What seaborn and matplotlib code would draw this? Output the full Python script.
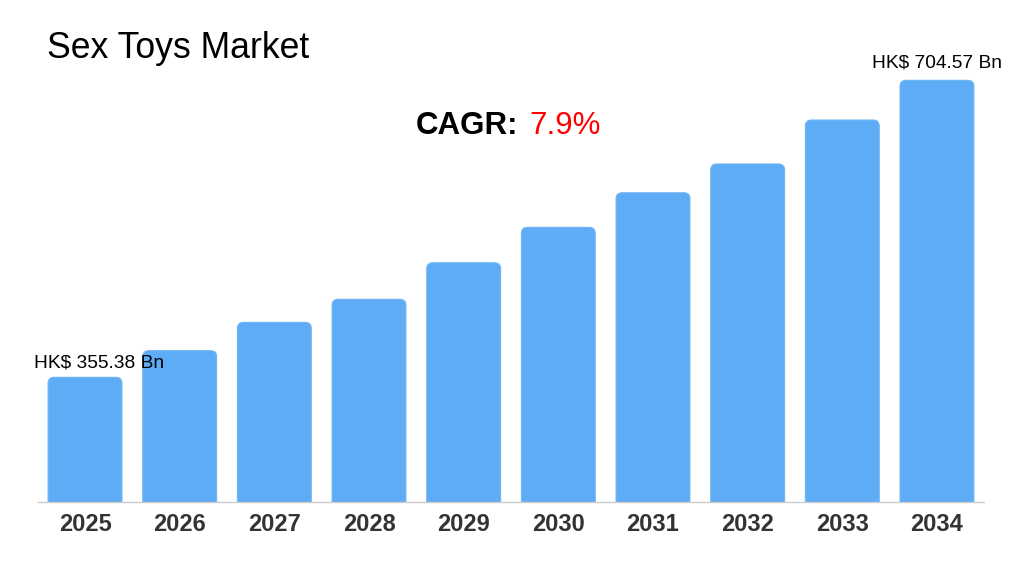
import matplotlib
matplotlib.use("Agg")
import matplotlib.pyplot as plt
import seaborn as sns
import pandas as pd
from matplotlib.patches import FancyBboxPatch

# ----------------------------------------------------------------------
# data
# ----------------------------------------------------------------------
years = ["2025", "2026", "2027", "2028", "2029",
         "2030", "2031", "2032", "2033", "2034"]
market_bn = [355.38, 386.7, 420.0, 447.1, 490.1,
             531.7, 572.4, 606.2, 657.9, 704.57]
first_label = "HK$ 355.38 Bn"
last_label = "HK$ 704.57 Bn"
title = "Sex Toys Market"
cagr_text = "7.9%"

BAR_COLOR = "#5eabf6"
Y_FLOOR = 208.8
Y_TOP = 730

df = pd.DataFrame({"year": years, "value": market_bn})

sns.set_theme(style="white")
plt.rcParams["font.family"] = ["Liberation Sans", "DejaVu Sans"]

W, H = 1015, 584
fig = plt.figure(figsize=(W / 100, H / 100), dpi=100)
ax = fig.add_axes([37.7 / W, (H - 502) / H, (984.3 - 37.7) / W, (502 - 58.7) / H])

sns.barplot(data=df, x="year", y="value", color=BAR_COLOR, width=0.78,
            saturation=1, ax=ax)
ax.set_ylim(Y_FLOOR, Y_TOP)

# swap the plain rectangles for rounded ones (same geometry)
rad_x = 6 / 94.67
rad_y = rad_x * ((Y_TOP - Y_FLOOR) / 443.3) / (1 / 94.67)
for p in list(ax.patches):
    x0, w = p.get_x(), p.get_width()
    top = p.get_y() + p.get_height()
    p.remove()
    ax.add_patch(FancyBboxPatch(
        (x0, Y_FLOOR - 20), w, top - Y_FLOOR + 20,
        boxstyle=f"round,pad=0,rounding_size={rad_x}",
        mutation_aspect=rad_y / rad_x,
        facecolor=BAR_COLOR, edgecolor="#6fb5f5", linewidth=0.8, zorder=2))

ax.set_xlabel("")
ax.set_ylabel("")
ax.set_yticks([])
for s in ["top", "right", "left"]:
    ax.spines[s].set_visible(False)
ax.spines["bottom"].set_color("#cccccc")
ax.spines["bottom"].set_linewidth(1)
ax.tick_params(axis="x", length=0, pad=8, labelsize=17, labelcolor="#333333")
for t in ax.get_xticklabels():
    t.set_fontweight("bold")

# value labels on first and last bars
ax.annotate(first_label, (0, market_bn[0]), xytext=(10, 10),
            textcoords="offset points", ha="center", va="center",
            fontsize=13.8, color="black")
ax.annotate(last_label, (len(years) - 1, market_bn[-1]), xytext=(0, 12.5),
            textcoords="offset points", ha="center", va="center",
            fontsize=13.8, color="black")

fig.text(47 / W, 1 - 49 / H, title, fontsize=25.7, color="black",
         ha="left", va="center")
fig.text(518 / W, 1 - 126 / H, "CAGR:", fontsize=22.5, fontweight="bold",
         color="black", ha="right", va="center")
fig.text(529 / W, 1 - 126 / H, cagr_text, fontsize=22.5, color="red",
         ha="left", va="center")

fig.savefig("out.png", dpi=100)
